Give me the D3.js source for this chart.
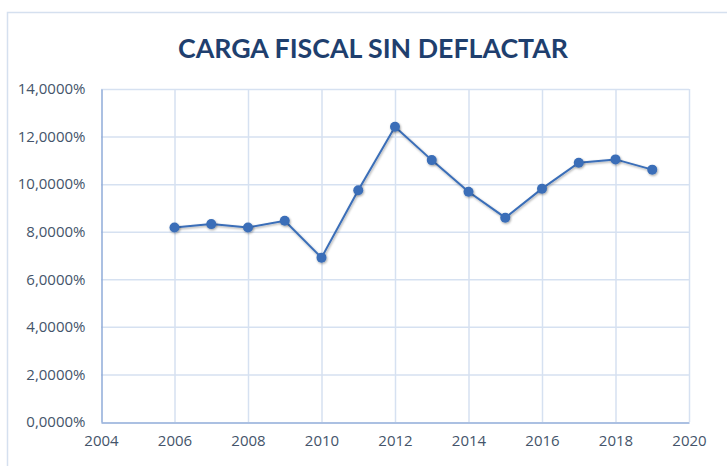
<!DOCTYPE html>
<html lang="es">
<head>
    <meta charset="utf-8">
    <script src="https://d3js.org/d3.v7.min.js"></script>
    <title>Carga fiscal sin deflactar</title>
    <style>
        body { margin: 0; background: #fff; }
        svg { display: block; }
    </style>
</head>
<body>
    <div id="container"></div>
    <script>
        const years = [2006, 2007, 2008, 2009, 2010, 2011, 2012, 2013, 2014, 2015, 2016, 2017, 2018, 2019];
        const carga = [8.18, 8.32, 8.18, 8.46, 6.91, 9.74, 12.41, 11.01, 9.68, 8.59, 9.81, 10.90, 11.04, 10.61];
        const xTicks = [2004, 2006, 2008, 2010, 2012, 2014, 2016, 2018, 2020];
        const yTicks = [0, 2, 4, 6, 8, 10, 12, 14];
        const title = "CARGA FISCAL SIN DEFLACTAR";

        const w = 727;
        const h = 466;
        const PLOT = { left: 101, right: 689, top: 89, bottom: 422 };

        const svg = d3.select("#container")
                      .append("svg")
                      .attr("width", w)
                      .attr("height", h);

        const defs = svg.append("defs");
        const f = defs.append("filter").attr("id", "shadow")
                      .attr("x", "-50%").attr("y", "-50%").attr("width", "200%").attr("height", "200%");
        f.append("feDropShadow").attr("dx", 0.8).attr("dy", 1.2)
         .attr("stdDeviation", 1).attr("flood-color", "#000").attr("flood-opacity", 0.35);

        // chart frame
        svg.append("rect")
           .attr("x", 7.5).attr("y", 12.5)
           .attr("width", 740).attr("height", 470)
           .attr("fill", "#fff")
           .attr("stroke", "#d5e0ef")
           .attr("stroke-width", 1.5);

        svg.append("text")
           .attr("x", 373)
           .attr("y", 58)
           .attr("text-anchor", "middle")
           .attr("font-family", "Lato, 'Open Sans', sans-serif")
           .attr("font-weight", "bold")
           .attr("font-size", 27)
           .attr("textLength", 390)
           .attr("lengthAdjust", "spacingAndGlyphs")
           .attr("fill", "#1f3f6e")
           .text(title);

        const xScale = d3.scaleLinear().domain([2004, 2020]).range([PLOT.left, PLOT.right]);
        const yScale = d3.scaleLinear().domain([0, 14]).range([PLOT.bottom, PLOT.top]);

        // gridlines
        svg.append("g")
           .selectAll("line")
           .data(yTicks.filter(d => d > 0))
           .enter()
           .append("line")
           .attr("x1", PLOT.left).attr("x2", PLOT.right)
           .attr("y1", d => yScale(d) + 0.5).attr("y2", d => yScale(d) + 0.5)
           .attr("stroke", "#d6e1f1")
           .attr("stroke-width", 1.5);

        svg.append("g")
           .selectAll("line")
           .data(xTicks.filter(d => d > 2004))
           .enter()
           .append("line")
           .attr("x1", d => xScale(d) + 0.5).attr("x2", d => xScale(d) + 0.5)
           .attr("y1", PLOT.top).attr("y2", PLOT.bottom)
           .attr("stroke", "#d6e1f1")
           .attr("stroke-width", 1.5);

        const xAxis = d3.axisBottom(xScale).tickValues(xTicks).tickSize(0).tickPadding(13).tickFormat(d3.format("d"));
        const gx = svg.append("g")
           .attr("transform", "translate(0," + (PLOT.bottom + 0.5) + ")")
           .call(xAxis);

        const yAxis = d3.axisLeft(yScale).tickValues(yTicks).tickSize(0).tickPadding(16)
                        .tickFormat(d => d.toFixed(4).replace(".", ",") + "%");
        const gy = svg.append("g")
           .attr("transform", "translate(" + (PLOT.left + 0.5) + ",0)")
           .call(yAxis);

        [gx, gy].forEach(g => {
            g.select(".domain").attr("stroke", "#8fabd8").attr("stroke-width", 1.5);
            g.selectAll("text")
             .attr("font-family", "'Open Sans', sans-serif")
             .attr("font-size", 15)
             .attr("fill", "#44546a");
        });

        const pts = years.map((y, i) => [y, carga[i]]);

        const line = d3.line().x(d => xScale(d[0])).y(d => yScale(d[1]));
        svg.append("path")
           .datum(pts)
           .attr("d", line)
           .attr("fill", "none")
           .attr("stroke", "#3a6eb8")
           .attr("stroke-width", 2)
           .attr("filter", "url(#shadow)");

        svg.selectAll("circle")
           .data(pts)
           .enter()
           .append("circle")
           .attr("cx", d => xScale(d[0]))
           .attr("cy", d => yScale(d[1]))
           .attr("r", 5)
           .attr("fill", "#3a6eb8")
           .attr("filter", "url(#shadow)");
    </script>
</body>
</html>
